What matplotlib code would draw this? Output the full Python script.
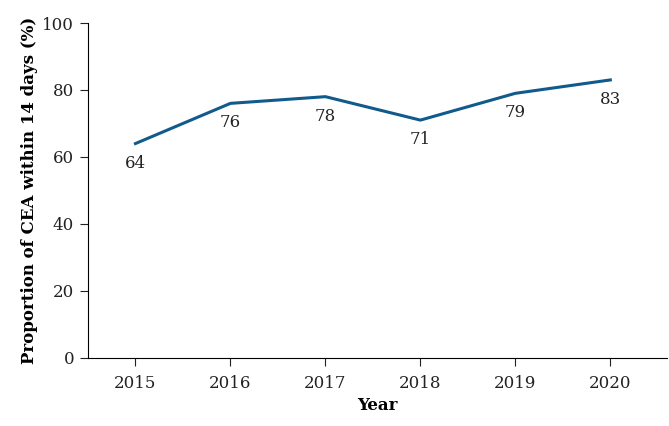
import matplotlib
matplotlib.use('Agg')
import matplotlib.pyplot as plt

years = [2015, 2016, 2017, 2018, 2019, 2020]
proportion = [64, 76, 78, 71, 79, 83]
yticks = [0, 20, 40, 60, 80, 100]

plt.rcParams['font.family'] = ['DejaVu Serif']

fig = plt.figure(figsize=(6.69, 4.26), dpi=100)
ax = fig.add_axes([0.1315, 0.160, 0.866, 0.786])
ax.plot(years, proportion, color='#115a8c', linewidth=2.2)
for x, y in zip(years, proportion):
    ax.annotate(str(y), (x, y), xytext=(0, -8), textcoords='offset points',
                ha='center', va='top', fontsize=12, color='#222222')

ax.set_xlim(2014.5, 2020.6)
ax.set_ylim(0, 100)
ax.set_xticks(years)
ax.set_yticks(yticks)
ax.tick_params(labelsize=12, length=6, colors='#222222')
ax.tick_params(axis='x', pad=6)
ax.tick_params(axis='y', pad=4)
ax.spines['top'].set_visible(False)
ax.spines['right'].set_visible(False)
ax.set_xlabel('Year', fontsize=12, fontweight='bold', labelpad=4)
ax.set_ylabel('Proportion of CEA within 14 days (%)', fontsize=12, fontweight='bold', labelpad=3)

fig.savefig('out.png', dpi=100)
